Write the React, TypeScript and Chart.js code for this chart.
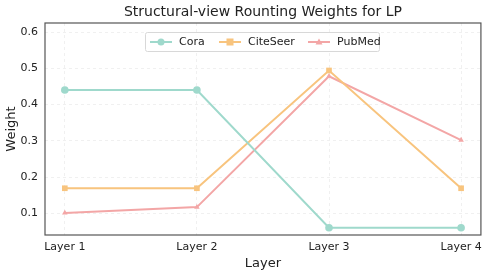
import React, { useEffect, useRef } from "react";
import { Chart, registerables } from "chart.js";

Chart.register(...registerables);

const categories = ["Layer 1", "Layer 2", "Layer 3", "Layer 4"];
const cora = [0.44, 0.44, 0.06, 0.06];
const citeseer = [0.169, 0.169, 0.494, 0.169];
const pubmed = [0.101, 0.117, 0.478, 0.302];
const yTicks = [0.1, 0.2, 0.3, 0.4, 0.5, 0.6];
const seriesNames = ["Cora", "CiteSeer", "PubMed"];
const seriesColors = ["#9fd9cc", "#f8c47e", "#f3a6a6"];
const seriesShapes = ["circle", "rect", "triangle"];
const seriesRadius = [3.8, 4, 3.2];

const FONT = "'DejaVu Sans', sans-serif";

export default function App() {
  const ref = useRef<HTMLCanvasElement | null>(null);

  useEffect(() => {
    document.body.style.margin = "0";
    const canvas = ref.current!;
    const series = [cora, citeseer, pubmed];

    const overlay = {
      id: "overlay",
      afterDraw(chart: any) {
        const ctx = chart.ctx;
        const area = chart.chartArea;
        ctx.save();
        // title
        ctx.fillStyle = "#222";
        ctx.font = `14px ${FONT}`;
        ctx.textAlign = "center";
        ctx.textBaseline = "middle";
        ctx.fillText("Structural-view Rounting Weights for LP", (area.left + area.right) / 2, 12);
        // border
        ctx.strokeStyle = "#555";
        ctx.lineWidth = 1.2;
        ctx.strokeRect(area.left, area.top, area.right - area.left, area.bottom - area.top);
        // legend
        const bx = 145, by = 32, bw = 234, bh = 19;
        ctx.fillStyle = "rgba(255,255,255,0.9)";
        ctx.strokeStyle = "#d8d8d8";
        ctx.lineWidth = 1;
        ctx.beginPath();
        (ctx as any).roundRect(bx + 0.5, by + 0.5, bw, bh, 2);
        ctx.fill();
        ctx.stroke();
        const itemX = [150, 219, 308];
        ctx.font = `11px ${FONT}`;
        ctx.textAlign = "left";
        ctx.textBaseline = "middle";
        const cy = by + bh / 2 + 0.5;
        seriesNames.forEach((name, i) => {
          const x0 = itemX[i];
          ctx.strokeStyle = seriesColors[i];
          ctx.lineWidth = 2;
          ctx.beginPath();
          ctx.moveTo(x0, cy);
          ctx.lineTo(x0 + 22, cy);
          ctx.stroke();
          ctx.fillStyle = seriesColors[i];
          const mx = x0 + 11;
          if (seriesShapes[i] === "circle") {
            ctx.beginPath();
            ctx.arc(mx, cy, 3.5, 0, Math.PI * 2);
            ctx.fill();
          } else if (seriesShapes[i] === "rect") {
            ctx.fillRect(mx - 3.5, cy - 3.5, 7, 7);
          } else {
            ctx.beginPath();
            ctx.moveTo(mx, cy - 3.5);
            ctx.lineTo(mx + 3.5, cy + 2.5);
            ctx.lineTo(mx - 3.5, cy + 2.5);
            ctx.closePath();
            ctx.fill();
          }
          ctx.fillStyle = "#222";
          ctx.fillText(name, x0 + 29, cy);
        });
        ctx.restore();
      },
    };

    const chart = new Chart(canvas, {
      type: "line",
      data: {
        datasets: series.map((vals, i) => ({
          label: seriesNames[i],
          data: vals.map((v, j) => ({ x: j, y: v })),
          borderColor: seriesColors[i],
          backgroundColor: seriesColors[i],
          borderWidth: 2,
          pointStyle: seriesShapes[i] as any,
          pointRadius: seriesRadius[i],
          pointBorderWidth: 0,
          tension: 0,
        })),
      },
      options: {
        responsive: false,
        animation: false,
        layout: { padding: { top: 23, right: 7, left: 0, bottom: 0 } },
        plugins: {
          legend: { display: false },
          title: { display: false },
          tooltip: { enabled: false },
        },
        scales: {
          x: {
            type: "linear",
            min: -0.15,
            max: 3.15,
            afterBuildTicks: (scale: any) => {
              scale.ticks = categories.map((_, i) => ({ value: i }));
            },
            afterFit: (scale: any) => {
              scale.height = 40;
            },
            ticks: {
              callback: (v: any) => categories[v as number] ?? "",
              font: { family: FONT, size: 11 },
              color: "#222",
              padding: 6,
              maxRotation: 0,
              autoSkip: false,
            },
            grid: {
              color: "#ececec",
              lineWidth: 0.8,
              drawTicks: false,
            },
            border: { display: false, dash: [3, 3] } as any,
            title: {
              display: true,
              text: "Layer",
              font: { family: FONT, size: 13 },
              color: "#222",
              padding: { top: 0, bottom: 4 },
            },
          },
          y: {
            type: "linear",
            min: 0.04,
            max: 0.625,
            afterBuildTicks: (scale: any) => {
              scale.ticks = yTicks.map((v) => ({ value: v }));
            },
            afterFit: (scale: any) => {
              scale.width = 45;
            },
            ticks: {
              callback: (v: any) => Number(v).toFixed(1),
              font: { family: FONT, size: 11 },
              color: "#222",
              padding: 7,
            },
            grid: {
              color: "#ececec",
              lineWidth: 0.8,
              drawTicks: false,
            },
            border: { display: false, dash: [3, 3] } as any,
            title: {
              display: true,
              text: "Weight",
              font: { family: FONT, size: 13 },
              color: "#222",
              padding: { top: 4, bottom: 0 },
            },
          },
        },
      },
      plugins: [overlay],
    });

    return () => chart.destroy();
  }, []);

  return <canvas ref={ref} width={488} height={275} style={{ display: "block" }} />;
}
